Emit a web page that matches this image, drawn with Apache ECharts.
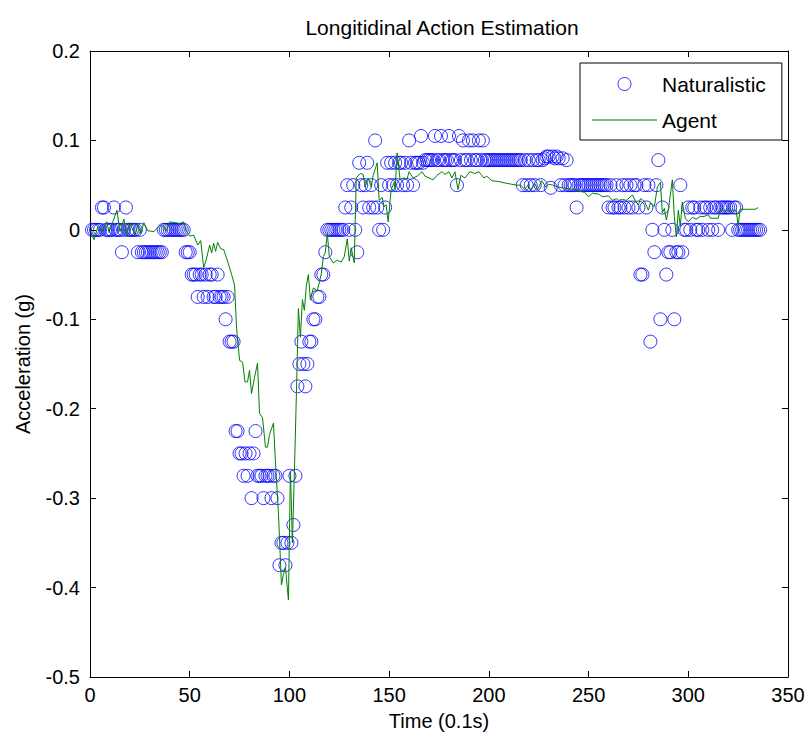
<!DOCTYPE html>
<html>
<head>
<meta charset="utf-8">
<script src="https://cdn.jsdelivr.net/npm/echarts@6/dist/echarts.min.js"></script>
<style>
  html, body { margin: 0; padding: 0; background: #fff; }
  #chart { width: 810px; height: 741px; }
</style>
</head>
<body>
<div id="chart"></div>
<script>
// ============================================================================
// Data
// ============================================================================

// naturalistic acceleration (g), one sample per 0.1 s, t = 1..336
const naturalistic = [
  0, 0, 0, 0, 0, 0.025, 0.025, 0, 0, 0,
  0, 0.025, 0, 0, 0, -0.025, 0, 0.025, 0, 0,
  0, 0, 0, -0.025, 0, -0.025, -0.025, -0.025, -0.025, -0.025,
  -0.025, -0.025, -0.025, -0.025, -0.025, -0.025, 0, 0, 0, 0,
  0, 0, 0, 0, 0, 0, 0, -0.025, -0.025, -0.025,
  -0.05, -0.05, -0.05, -0.075, -0.05, -0.05, -0.075, -0.05, -0.075, -0.05,
  -0.05, -0.075, -0.075, -0.05, -0.075, -0.075, -0.075, -0.1, -0.075, -0.125,
  -0.125, -0.125, -0.225, -0.225, -0.25, -0.25, -0.275, -0.25, -0.275, -0.25,
  -0.3, -0.25, -0.225, -0.275, -0.275, -0.275, -0.3, -0.275, -0.275, -0.275,
  -0.3, -0.275, -0.275, -0.3, -0.375, -0.35, -0.35, -0.375, -0.35, -0.275,
  -0.35, -0.33, -0.275, -0.175, -0.15, -0.125, -0.15, -0.175, -0.15, -0.125,
  -0.125, -0.1, -0.1, -0.075, -0.075, -0.05, -0.05, -0.025, 0, 0,
  0, 0, 0, 0, 0, 0, 0, 0.025, 0.05, 0,
  0.025, 0.05, 0, -0.025, 0.075, 0.05, 0.025, 0.05, 0.075, 0.025,
  0.05, 0.025, 0.1, 0.025, 0, 0.05, 0, 0.025, 0.075, 0.05,
  0.075, 0.05, 0.075, 0.05, 0.075, 0.075, 0.05, 0.075, 0.05, 0.1,
  0.075, 0.05, 0.075, 0.075, 0.075, 0.105, 0.075, 0.078, 0.078, 0.078,
  0.078, 0.078, 0.105, 0.078, 0.078, 0.105, 0.078, 0.078, 0.078, 0.105,
  0.078, 0.078, 0.078, 0.05, 0.105, 0.078, 0.1, 0.078, 0.078, 0.1,
  0.078, 0.1, 0.078, 0.078, 0.1, 0.078, 0.1, 0.078, 0.078, 0.078,
  0.078, 0.078, 0.078, 0.078, 0.078, 0.078, 0.078, 0.078, 0.078, 0.078,
  0.078, 0.078, 0.078, 0.078, 0.078, 0.078, 0.05, 0.078, 0.05, 0.078,
  0.05, 0.078, 0.05, 0.078, 0.078, 0.05, 0.078, 0.08, 0.082, 0.082,
  0.047, 0.082, 0.08, 0.082, 0.08, 0.05, 0.08, 0.05, 0.078, 0.05,
  0.05, 0.05, 0.05, 0.025, 0.05, 0.05, 0.05, 0.05, 0.05, 0.05,
  0.05, 0.05, 0.05, 0.05, 0.05, 0.05, 0.05, 0.05, 0.05, 0.025,
  0.05, 0.025, 0.025, 0.05, 0.025, 0.025, 0.05, 0.025, 0.05, 0.025,
  0.05, 0.025, 0.05, 0.05, 0.025, -0.05, -0.05, 0.05, 0.025, 0.05,
  -0.125, 0, -0.025, 0.05, 0.078, -0.1, 0.025, 0, -0.05, -0.025,
  -0.025, 0, -0.1, -0.025, -0.025, 0.05, -0.025, 0, 0, 0.025,
  0, 0.025, 0.025, 0, 0, 0.025, 0, 0.025, 0.025, 0,
  0.025, 0, 0.025, 0.025, 0, 0.025, 0.025, 0.025, 0.025, 0.025,
  0.025, 0, 0.025, 0.025, 0, 0, 0, 0, 0, 0,
  0, 0, 0, 0, 0, 0
]

// agent acceleration (g): sample times (0.1 s) and values
const agentTime = [
  0, 2, 4, 6, 8.5, 9.5, 11, 13.5, 15, 17, 18.5, 20, 22.5, 24, 25.5, 27, 29, 32, 35, 37,
  38, 40, 43, 45, 47, 48, 50, 52, 54, 55.5, 57, 58, 60, 61, 62, 63, 64, 65.5, 67, 69,
  71, 72.5, 73.5, 75, 76.5, 77.7, 79, 80, 81, 82.5, 84, 85, 86.5, 88, 89, 90, 92, 93, 94.5, 96,
  97, 98, 99.5, 100.5, 101.5, 102.5, 103.5, 104.5, 105.5, 106.5, 107.5, 108.5, 109.5, 110.5, 112, 114, 116, 117, 118, 119,
  120, 122, 124, 126, 127.5, 129, 130, 131, 132.5, 133.5, 135.5, 137, 138, 139.5, 141, 142, 144, 145, 146.5, 147.5,
  148.5, 149.5, 151, 152.5, 153, 154, 155.5, 157, 159, 160, 162, 164, 166.5, 168, 170, 172, 174, 176.5, 178, 180,
  181.5, 183, 184.5, 186, 188, 190.5, 193, 195, 197.5, 199, 201.5, 205, 209, 214, 216, 218, 219.5, 221, 223, 224.5,
  226.5, 228.5, 230, 232, 234.5, 237, 240, 243, 246, 248, 250, 252, 255, 257, 260, 262, 264, 265, 267, 269,
  272, 274, 275, 276, 278, 280, 281, 283, 284.5, 286, 287, 288, 289, 290, 292, 293, 294, 295, 296, 297,
  298.5, 300, 302, 304, 306, 308, 310, 311, 315, 316, 320, 324, 325, 326, 330, 333.5, 335
]
const agentAccel = [
  0, -0.011, 0.004, -0.002, 0.009, -0.003, 0.006, 0.022, -0.002, 0.012, -0.006, 0.008, -0.006, 0.006, -0.004, 0.008, -0.001, -0.002, 0.005, 0.004,
  -0.002, 0.009, 0.008, 0.007, 0.009, 0, -0.007, -0.006, -0.017, -0.012, -0.042, -0.036, -0.017, -0.026, -0.015, -0.024, -0.014, -0.021, -0.022, -0.035,
  -0.05, -0.062, -0.11, -0.146, -0.148, -0.17, -0.17, -0.157, -0.183, -0.165, -0.149, -0.205, -0.21, -0.243, -0.243, -0.229, -0.216, -0.26, -0.317, -0.397,
  -0.385, -0.377, -0.414, -0.27, -0.35, -0.27, -0.183, -0.088, -0.12, -0.078, -0.09, -0.062, -0.05, -0.078, -0.065, -0.068, -0.049, -0.03, -0.025, -0.004,
  -0.03, -0.037, -0.034, -0.036, -0.03, -0.01, -0.035, -0.02, -0.037, 0.058, 0.063, 0.062, 0.048, 0.058, 0.048, 0.061, 0.075, 0.033, 0.036, 0.026,
  0.028, 0.009, 0.045, 0.053, 0.045, 0.086, 0.056, 0.058, 0.057, 0.065, 0.058, 0.06, 0.065, 0.06, 0.058, 0.056, 0.061, 0.065, 0.062, 0.065,
  0.058, 0.065, 0.045, 0.061, 0.058, 0.065, 0.063, 0.065, 0.058, 0.06, 0.055, 0.054, 0.052, 0.05, 0.05, 0.045, 0.05, 0.045, 0.052, 0.045,
  0.055, 0.048, 0.051, 0.05, 0.048, 0.047, 0.046, 0.045, 0.043, 0.042, 0.037, 0.041, 0.04, 0.037, 0.038, 0.033, 0.035, 0.033, 0.034, 0.033,
  0.039, 0.03, 0.028, 0.035, 0.032, 0.022, 0.03, 0.026, 0.048, 0.053, 0.019, 0.024, 0.011, 0.022, 0.056, 0.015, -0.008, 0.022, 0.004, 0.031,
  0.013, 0.009, 0.014, 0.012, 0.015, 0.015, 0.017, 0.013, 0.013, 0.022, 0.022, 0.022, 0.005, 0.023, 0.023, 0.023, 0.025
]

const xTicks = [0, 50, 100, 150, 200, 250, 300, 350]

// ============================================================================
// Chart
// ============================================================================

const fontFamily = '"Liberation Sans", Arial, sans-serif'
const fontSize = 20
const naturalisticData = naturalistic.map((v, i) => [i + 1, v])
const agentData = agentTime.map((t, i) => [t, agentAccel[i]])

const boxAxis = {
    axisLine: {show: true, onZero: false, lineStyle: {color: '#000', width: 1}},
    axisTick: {show: true, inside: true, length: 6, lineStyle: {color: '#000'}},
    splitLine: {show: false},
}

var chart = echarts.init(document.getElementById('chart'), null, {renderer: 'svg'})
var option = {
    animation: false,
    backgroundColor: '#fff',
    textStyle: {fontFamily: fontFamily},
    title: {
        text: 'Longitidinal Action Estimation',
        left: 437,
        textAlign: 'center',
        top: 12,
        textStyle: {fontSize: 21, fontWeight: 'normal', color: '#000', fontFamily: fontFamily},
    },
    grid: {left: 90, right: 22, top: 51, bottom: 64, containLabel: false},
    legend: {
        left: 580,
        top: 63,
        orient: 'vertical',
        itemWidth: 65,
        itemHeight: 13,
        itemGap: 12,
        padding: [9, 16, 8, 12],
        borderColor: '#000',
        borderWidth: 1,
        backgroundColor: '#fff',
        textStyle: {fontSize: 21, color: '#000', lineHeight: 24, fontFamily: fontFamily},
        data: [
            {name: 'Naturalistic', icon: 'circle',
             itemStyle: {color: 'rgba(0,0,0,0)', borderColor: '#0000ff', borderWidth: 1}},
            {name: 'Agent', icon: 'path://M0,0L65,0L65,1L0,1Z',
             itemStyle: {color: '#008000', borderWidth: 0}},
        ],
    },
    xAxis: [
        {
            ...boxAxis,
            type: 'value',
            min: 0, max: 350, interval: 50,
            name: 'Time (0.1s)',
            nameLocation: 'middle',
            nameGap: 34,
            nameTextStyle: {fontSize: fontSize, color: '#000', fontFamily: fontFamily},
            axisLabel: {
                fontSize: fontSize, color: '#000', margin: 8, fontFamily: fontFamily,
                customValues: xTicks,
            },
        },
        {
            ...boxAxis,
            type: 'value',
            position: 'top',
            min: 0, max: 350, interval: 50,
            axisLabel: {show: false},
        },
    ],
    yAxis: [
        {
            ...boxAxis,
            type: 'value',
            min: -0.5, max: 0.2, interval: 0.1,
            name: 'Acceleration (g)',
            nameLocation: 'middle',
            nameGap: 57,
            nameTextStyle: {fontSize: fontSize, color: '#000', fontFamily: fontFamily},
            axisLabel: {
                fontSize: fontSize, color: '#000', margin: 10, fontFamily: fontFamily,
                formatter: v => String(+v.toFixed(1)),
            },
        },
        {
            ...boxAxis,
            type: 'value',
            position: 'right',
            min: -0.5, max: 0.2, interval: 0.1,
            axisLabel: {show: false},
        },
    ],
    series: [
        {
            name: 'Naturalistic',
            type: 'scatter',
            symbol: 'circle',
            symbolSize: 13,
            itemStyle: {color: 'rgba(0,0,0,0)', borderColor: '#0000ff', borderWidth: 1},
            data: naturalisticData,
            z: 2,
        },
        {
            name: 'Agent',
            type: 'line',
            symbol: 'none',
            lineStyle: {color: '#008000', width: 1},
            itemStyle: {color: '#008000'},
            data: agentData,
            z: 3,
        },
    ],
}
chart.setOption(option)
</script>
</body>
</html>
